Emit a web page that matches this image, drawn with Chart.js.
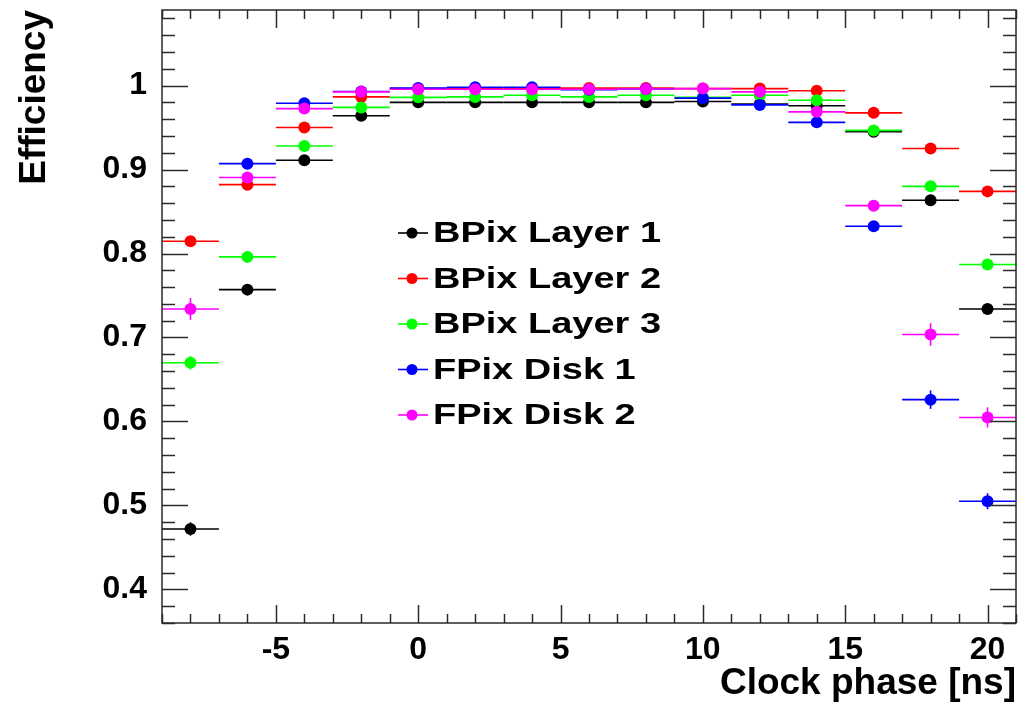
<!DOCTYPE html>
<html><head><meta charset="utf-8">
<script src="https://cdn.jsdelivr.net/npm/chart.js@4.4.0/dist/chart.umd.min.js"></script>
<style>html,body{margin:0;padding:0;background:#fff;overflow:hidden}#wrap{width:1018px;height:707px}</style>
</head><body><div id="wrap"><canvas id="c" width="1018" height="707"></canvas></div>
<script>
// ---- data ----
const clockPhase = [-8, -6, -4, -2, 0, 2, 4, 6, 8, 10, 12, 14, 16, 18, 20];
const binHalfWidth = 1;
const seriesLabels = ['BPix Layer 1', 'BPix Layer 2', 'BPix Layer 3', 'FPix Disk 1', 'FPix Disk 2'];
const seriesColors = ['#000000', '#ff0000', '#00ff00', '#0000ff', '#ff00ff'];

const bpixLayer1 = [0.472, 0.757, 0.911, 0.964, 0.980, 0.980, 0.980, 0.980, 0.980, 0.981, 0.978, 0.976, 0.945, 0.8635, 0.734];
const bpixLayer2 = [0.8147, 0.882, 0.950, 0.9865, 0.9964, 0.997, 0.997, 0.997, 0.997, 0.9964, 0.9964, 0.9938, 0.9675, 0.925, 0.874];
const bpixLayer3 = [0.670, 0.796, 0.928, 0.974, 0.986, 0.9865, 0.9885, 0.9865, 0.9885, 0.986, 0.9885, 0.9825, 0.9466, 0.880, 0.787];
const fpixDisk1  = [null, 0.907, 0.979, 0.993, 0.997, 0.998, 0.998, 0.995, 0.996, 0.985, 0.977, 0.9562, 0.8325, 0.626, 0.505];
const fpixDisk2  = [0.734, 0.8905, 0.9726, 0.9925, 0.9957, 0.9957, 0.9956, 0.9956, 0.996, 0.9964, 0.9925, 0.9687, 0.857, 0.7036, 0.6048];

const bpixLayer1Err = [0.008, 0.004, 0.003, 0.002, 0.001, 0.001, 0.001, 0.001, 0.001, 0.001, 0.001, 0.002, 0.003, 0.004, 0.005];
const bpixLayer2Err = [0.005, 0.003, 0.002, 0.001, 0.001, 0.001, 0.001, 0.001, 0.001, 0.001, 0.001, 0.001, 0.002, 0.003, 0.004];
const bpixLayer3Err = [0.008, 0.004, 0.003, 0.002, 0.001, 0.001, 0.001, 0.001, 0.001, 0.001, 0.001, 0.002, 0.003, 0.004, 0.005];
const fpixDisk1Err  = [null, 0.005, 0.002, 0.001, 0.001, 0.001, 0.001, 0.001, 0.001, 0.001, 0.002, 0.003, 0.004, 0.011, 0.0095];
const fpixDisk2Err  = [0.013, 0.005, 0.003, 0.002, 0.001, 0.001, 0.001, 0.001, 0.001, 0.001, 0.002, 0.003, 0.005, 0.0135, 0.012];

const xTickValues = [-5, 0, 5, 10, 15, 20];
const yTickValues = [0.4, 0.5, 0.6, 0.7, 0.8, 0.9, 1.0];
const xTitle = 'Clock phase [ns]';
const yTitle = 'Efficiency';

// ---- chart ----
const FONT = "'Liberation Sans', Arial, Helvetica, sans-serif";
const seriesValues = [bpixLayer1, bpixLayer2, bpixLayer3, fpixDisk1, fpixDisk2];
const seriesErrors = [bpixLayer1Err, bpixLayer2Err, bpixLayer3Err, fpixDisk1Err, fpixDisk2Err];

const datasets = seriesLabels.map((label, s) => ({
  label,
  data: clockPhase.map((x, i) => ({x, y: seriesValues[s][i]})),
  yErr: seriesErrors[s],
  backgroundColor: seriesColors[s],
  borderColor: seriesColors[s],
  pointRadius: 6,
  pointHoverRadius: 6,
  pointBorderWidth: 0,
  showLine: false,
  order: seriesLabels.length - s
}));

const errorBarPlugin = {
  id: 'errorBars',
  beforeDatasetDraw(chart, args) {
    const ds = chart.data.datasets[args.index];
    const {ctx, chartArea: a, scales: {x, y}} = chart;
    ctx.save();
    ctx.beginPath();
    ctx.rect(a.left, a.top, a.right - a.left, a.bottom - a.top);
    ctx.clip();
    ctx.strokeStyle = ds.borderColor;
    ctx.lineWidth = 1.6;
    ds.data.forEach((p, i) => {
      if (p.y === null || p.y === undefined) return;
      const py = y.getPixelForValue(p.y);
      const x0 = x.getPixelForValue(p.x - binHalfWidth);
      const x1 = x.getPixelForValue(p.x + binHalfWidth);
      ctx.beginPath(); ctx.moveTo(x0, py); ctx.lineTo(x1, py); ctx.stroke();
      const e = ds.yErr[i];
      if (e) {
        const px = x.getPixelForValue(p.x);
        ctx.beginPath();
        ctx.moveTo(px, y.getPixelForValue(p.y - e));
        ctx.lineTo(px, y.getPixelForValue(p.y + e));
        ctx.stroke();
      }
    });
    ctx.restore();
  }
};

const framePlugin = {
  id: 'rootFrame',
  afterDraw(chart) {
    const {ctx, chartArea: a, scales: {x, y}} = chart;
    ctx.save();
    ctx.strokeStyle = '#2a2a2a';
    ctx.lineWidth = 1.5;
    const seg = (x0, y0, x1, y1) => { ctx.beginPath(); ctx.moveTo(x0, y0); ctx.lineTo(x1, y1); ctx.stroke(); };
    for (let v = Math.ceil(x.min); v <= x.max; v += 1) {
      const px = Math.round(x.getPixelForValue(v)) + 0.5;
      const len = xTickValues.includes(v) ? 18 : 9;
      seg(px, a.bottom, px, a.bottom - len);
      seg(px, a.top, px, a.top + len);
    }
    for (let k = Math.ceil(y.min / 0.02 - 1e-9); k * 0.02 <= y.max + 1e-9; k++) {
      const v = k * 0.02;
      const major = Math.abs(v * 10 - Math.round(v * 10)) < 1e-6;
      const py = Math.round(y.getPixelForValue(v)) + 0.5;
      const len = major ? 26 : 13;
      seg(a.left, py, a.left + len, py);
      seg(a.right, py, a.right - len, py);
    }
    ctx.strokeRect(a.left, a.top, a.right - a.left, a.bottom - a.top);
    ctx.restore();
  }
};

const legendPlugin = {
  id: 'rootLegend',
  afterDraw(chart) {
    const {ctx, chartArea: a} = chart;
    ctx.save();
    chart.data.datasets.forEach((ds, i) => {
      const cy = a.top + 223 + i * 45.5;
      ctx.strokeStyle = ds.borderColor;
      ctx.fillStyle = ds.backgroundColor;
      ctx.lineWidth = 1.6;
      ctx.beginPath(); ctx.moveTo(a.left + 236, cy); ctx.lineTo(a.left + 266, cy); ctx.stroke();
      ctx.beginPath(); ctx.arc(a.left + 250, cy, 5.5, 0, Math.PI * 2); ctx.fill();
      ctx.save();
      ctx.translate(a.left + 271, cy + 1);
      ctx.scale(1.31, 1);
      ctx.fillStyle = '#000';
      ctx.font = 'bold 29px ' + FONT;
      ctx.textBaseline = 'middle';
      ctx.textAlign = 'left';
      ctx.fillText(ds.label, 0, 0);
      ctx.restore();
    });
    ctx.restore();
  }
};

new Chart(document.getElementById('c'), {
  type: 'scatter',
  data: {datasets},
  options: {
    responsive: false,
    animation: false,
    devicePixelRatio: 1,
    layout: {autoPadding: false, padding: {left: 0, right: 2, top: 10, bottom: 0}},
    plugins: {legend: {display: false}, tooltip: {enabled: false}},
    scales: {
      x: {
        type: 'linear', min: -9, max: 21,
        grid: {display: false}, border: {display: false},
        afterBuildTicks: s => { s.ticks = xTickValues.map(v => ({value: v})); },
        afterFit: s => { s.height = 84; s.paddingLeft = 0; s.paddingRight = 0; s.paddingTop = 0; s.paddingBottom = 0; },
        ticks: {color: '#000', padding: 0, maxRotation: 0, autoSkip: false,
                font: {family: FONT, size: 32, weight: 'bold'}},
        title: {display: true, text: xTitle, align: 'end', color: '#000',
                font: {family: FONT, size: 37, weight: 'bold'}, padding: {top: 0, bottom: 1}}
      },
      y: {
        type: 'linear', min: 0.36, max: 1.09,
        grid: {display: false}, border: {display: false},
        afterBuildTicks: s => { s.ticks = yTickValues.map(v => ({value: v})); },
        afterFit: s => { s.width = 162; s.paddingLeft = 0; s.paddingRight = 0; s.paddingTop = 0; s.paddingBottom = 0; },
        ticks: {color: '#000', padding: 7, autoSkip: false,
                font: {family: FONT, size: 32, weight: 'bold'},
                callback: v => (Math.abs(v - 1) < 1e-9 ? '1' : v.toFixed(1))},
        title: {display: true, text: yTitle, align: 'end', color: '#000',
                font: {family: FONT, size: 37, weight: 'bold'}, padding: {top: 13, bottom: 0}}
      }
    }
  },
  plugins: [errorBarPlugin, framePlugin, legendPlugin]
});
</script></body></html>
